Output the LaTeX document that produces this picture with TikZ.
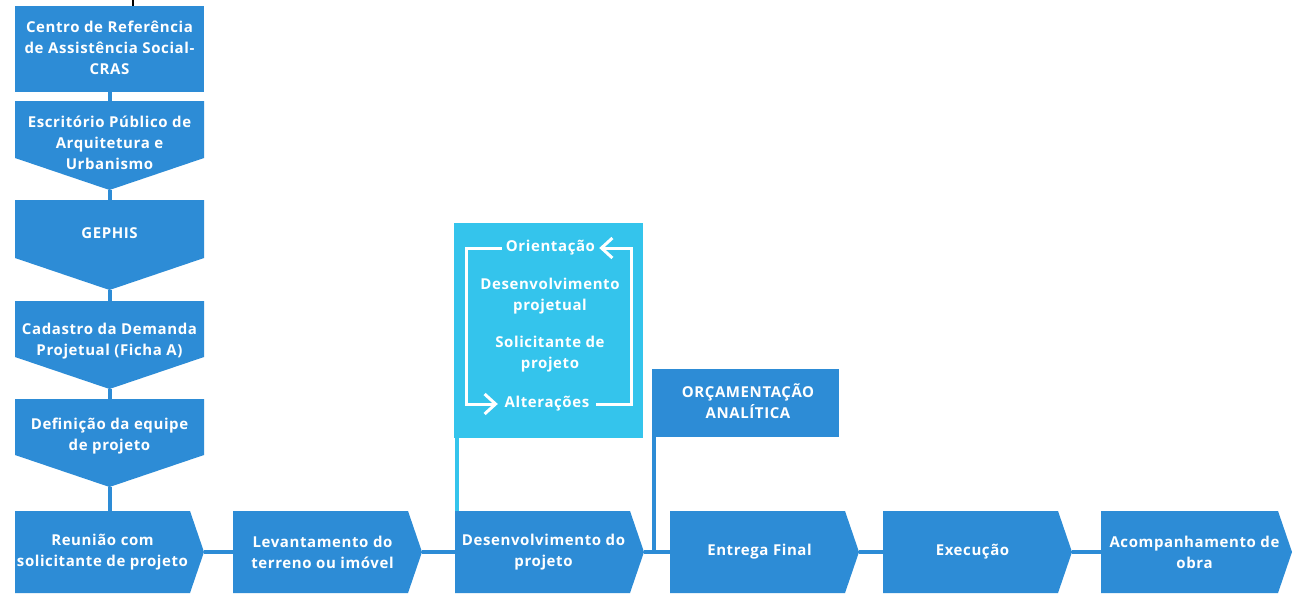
\documentclass[tikz,border=0pt]{standalone}
\usepackage{fontspec}
\setmainfont[LetterSpace=4]{Open Sans}
\usetikzlibrary{arrows.meta,calc}
\definecolor{dkblue}{RGB}{45,140,214}
\definecolor{ltblue}{RGB}{52,196,236}
\begin{document}
\begin{tikzpicture}[x=1pt,y=-1pt,
  lbl/.style={text=white,font=\bfseries\fontsize{15}{21}\selectfont,align=center,inner sep=0pt},
  rectbox/.style={fill=dkblue,inner sep=0pt,minimum width=189pt,minimum height=#1},
  downbox/.style={inner sep=0pt,minimum width=189pt,minimum height=#1,
    path picture={\fill[dkblue] (path picture bounding box.north west) -- (path picture bounding box.north east)
      -- ($(path picture bounding box.south east)+(0,-32)$) -- (path picture bounding box.south)
      -- ($(path picture bounding box.south west)+(0,-32)$) -- cycle;}},
  rightbox/.style={inner sep=0pt,minimum width=#1,minimum height=82pt,
    path picture={\fill[dkblue] (path picture bounding box.north west) -- ($(path picture bounding box.north east)+(-14,0)$)
      -- (path picture bounding box.east) -- ($(path picture bounding box.south east)+(-14,0)$)
      -- (path picture bounding box.south west) -- cycle;}},
  conn/.style={draw=dkblue,line width=4pt},
  lconn/.style={draw=ltblue,line width=4pt},
  loopline/.style={draw=white,line width=3pt,-{Straight Barb[length=11pt,width=20pt,line width=3pt]}},
]
\useasboundingbox (0,0) rectangle (1293,594);
\fill[white] (0,0) rectangle (1293,594);
% small black tick at top
\coordinate (tickA) at (133,0);
\coordinate (tickB) at (133,6);
\draw[black,line width=2pt] (tickA) -- (tickB);

% left column
\node[rectbox=86pt] (b1) at (109.5,49) {};
\node[lbl] (b1t) at (109.5,48) {Centro de Referência\\de Assistência Social-\\CRAS};
\node[downbox=89pt] (b2) at (109.5,145.5) {};
\node[lbl] (b2t) at (109.5,143) {Escritório Público de\\Arquitetura e\\Urbanismo};
\node[downbox=90pt] (b3) at (109.5,245) {};
\node[lbl] (b3t) at (109.5,233) {GEPHIS};
\node[downbox=88pt] (b4) at (109.5,345) {};
\node[lbl] (b4t) at (109.5,341) {Cadastro da Demanda\\Projetual (Ficha A)};
\node[downbox=88pt] (b5) at (109.5,443) {};
\node[lbl] (b5t) at (109.5,436.5) {Definição da equipe\\de projeto};

% bottom row
\node[rightbox=189pt] (b6) at (109.5,552) {};
\node[lbl] (b6t) at ([xshift=-7pt]b6.center) {Reunião com\\solicitante de projeto};
\node[rightbox=189pt] (b7) at (327.5,552) {};
\node[lbl] (b7t) at ([xshift=-5pt]b7.center) {Levantamento do\\terreno ou imóvel};
\node[rightbox=189pt] (b8) at (549.5,552) {};
\node[lbl] (b8t) at ([xshift=-6pt]b8.center) {Desenvolvimento do\\projeto};
\node[rightbox=189pt] (b9) at (764.5,552) {};
\node[lbl] (b9t) at ([xshift=-5pt]b9.center) {Entrega Final};
\node[rightbox=189pt] (b10) at (977.5,552) {};
\node[lbl] (b10t) at ([xshift=-5pt]b10.center) {Execução};
\node[rightbox=191pt] (b11) at (1196.5,552) {};
\node[lbl] (b11t) at ([xshift=-2pt]b11.center) {Acompanhamento de\\obra};

% upper boxes
\node[fill=ltblue,inner sep=0pt,minimum width=189pt,minimum height=215pt] (loopbox) at (548.5,330.5) {};
\node[fill=dkblue,inner sep=0pt,minimum width=187pt,minimum height=68pt] (orc) at (745.5,403) {};
\node[lbl] (orct) at (748,401.5) {ORÇAMENTAÇÃO\\ANALÍTICA};

% loop content
\node[lbl,minimum width=97pt] (ori) at (550.5,248) {Orientação};
\node[lbl] (dp) at (550,296.5) {Desenvolvimento\\projetual};
\node[lbl] (sp) at (550,354.5) {Solicitante de\\projeto};
\node[lbl,minimum width=98pt] (alt) at (547,404) {Alterações};
\draw[loopline] (ori.west) -- ++(-35,0) |- (alt.west);
\draw[loopline] (alt.east) -- ++(35,0) |- (ori.east);

% connectors left column
\draw[conn] (b1.south) -- (b2.north);
\draw[conn] (b2.south) -- (b3.north);
\draw[conn] (b3.south) -- (b4.north);
\draw[conn] (b4.south) -- (b5.north);
\draw[conn] (b5.south) -- (b6.north);
% connectors bottom row
\draw[conn] (b6.east) -- (b7.west);
\draw[conn] (b7.east) -- (b8.west);
\draw[conn] (b8.east) -- (b9.west);
\draw[conn] (b9.east) -- (b10.west);
\draw[conn] (b10.east) -- (b11.west);
% vertical connectors
\draw[lconn] ([xshift=3pt]loopbox.south west) -- ([xshift=3pt]loopbox.south west |- b8.north);
\coordinate (orcfoot) at ([xshift=2.5pt]orc.south west |- b9.west);
\draw[conn] ([xshift=2.5pt]orc.south west) -- (orcfoot);
\end{tikzpicture}
\end{document}
